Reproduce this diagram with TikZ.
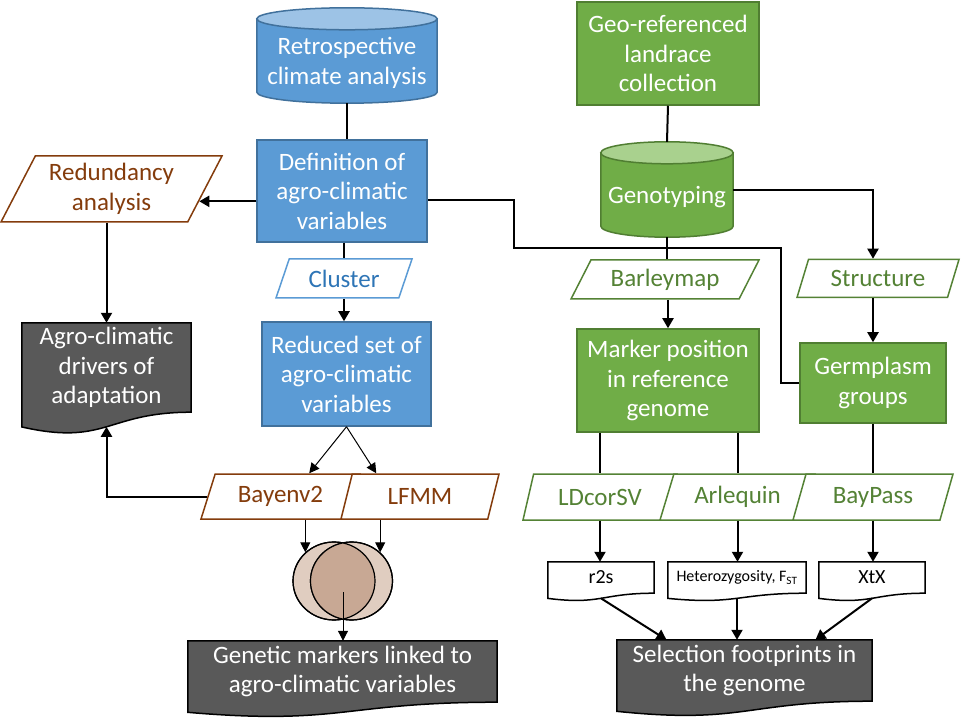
\documentclass[tikz,border=0pt]{standalone}
\usepackage{fontspec}
\setmainfont{Carlito}
\usetikzlibrary{arrows.meta,shapes.geometric,calc,backgrounds}
\definecolor{bluefill}{HTML}{5B9BD5}
\definecolor{blueline}{HTML}{41719C}
\definecolor{bluetop}{HTML}{9DC3E6}
\definecolor{bluetext}{HTML}{2E75B6}
\definecolor{greenfill}{HTML}{70AD47}
\definecolor{greenline}{HTML}{507E32}
\definecolor{greentop}{HTML}{A9D18E}
\definecolor{greentext}{HTML}{548235}
\definecolor{brown}{HTML}{843C0C}
\definecolor{docgray}{HTML}{595959}
\definecolor{vennlight}{HTML}{E0CDC0}
\definecolor{venndark}{HTML}{C8A894}
\tikzset{every node/.append style={font=\fontsize{25}{29.5}\selectfont, align=center, inner sep=0pt}}

\newcommand{\docshape}[2]{%
  \begin{scope}[on background layer]
    \filldraw[fill=#2, draw=black, line width=1.5pt]
      let \p1=(#1.north), \p2=(#1.south), \n1={\y1-\y2} in
      (#1.north west) -- (#1.north east) -- (#1.south east)
      .. controls (#1.south) and ($(#1.south)+(0,-0.38*\n1)$) .. ($(#1.south west)+(0,-0.165*\n1)$) -- cycle;
  \end{scope}
  \path let \p1=(#1.north), \p2=(#1.south), \n1={\y1-\y2} in
    coordinate (#1-b) at ($(#1.south)+(0,-0.163*\n1)$);}

\newcommand{\cylshape}[4]{%
  \begin{scope}[on background layer]
    \filldraw[fill=#2, draw=#4, line width=1.5pt]
      let \p1=(#1.west), \p2=(#1.east), \n1={(\x2-\x1)/2} in
      ([yshift=11pt]#1.north west) -- ([yshift=4pt]#1.south west)
      arc[start angle=180, end angle=360, x radius=\n1, y radius=11pt]
      -- ([yshift=11pt]#1.north east) -- cycle;
    \filldraw[fill=#3, draw=#4, line width=1.5pt]
      let \p1=(#1.west), \p2=(#1.east), \n1={(\x2-\x1)/2} in
      ([yshift=11pt]#1.north) ellipse[x radius=\n1, y radius=11pt];
  \end{scope}
  \coordinate (#1-top) at ([yshift=22pt]#1.north);
  \coordinate (#1-bot) at ([yshift=-7pt]#1.south);}

\begin{document}
\begin{tikzpicture}[x=1pt, y=-1pt,
    bluebox/.style={rectangle, draw=blueline, fill=bluefill, line width=1.5pt, text=white},
    greenbox/.style={rectangle, draw=greenline, fill=greenfill, line width=1.5pt, text=white},
    cyl/.style={rectangle, text=white},
    datain/.style={trapezium, trapezium left angle=55, trapezium right angle=125,
        trapezium stretches body, fill=white, line width=1.5pt},
    brownin/.style={datain, draw=brown, text=brown},
    greenin/.style={datain, draw=greentext, text=greentext},
    docnode/.style={rectangle, text=white},
    smalldoc/.style={rectangle, text=black, font=\fontsize{20}{24}\selectfont},
    venn/.style={ellipse, draw, fill=vennlight, line width=1.2pt, minimum width=82pt, minimum height=78pt},
    line/.style={draw, line width=2pt},
    arr/.style={line, -{Triangle[length=10pt,width=11pt]}},
    thinarr/.style={draw, line width=1pt, -{Triangle[length=10pt,width=10pt]}}
    ]
    \useasboundingbox (0,0) rectangle (962,719);

    \node[cyl, minimum width=180pt, minimum height=66pt] (retro) at (347,63) {Retrospective\\climate analysis};
    \cylshape{retro}{bluefill}{bluetop}{blueline}
    \node[bluebox, minimum width=170pt, minimum height=102pt] (defin) at (342,191) {Definition of\\agro-climatic\\variables};
    \node[datain, draw=bluefill, text=bluetext, trapezium left angle=53, trapezium right angle=127,
        minimum width=136pt, minimum height=39pt] (cluster) at (344,278.5) {Cluster};
    \node[bluebox, minimum width=169pt, minimum height=104pt] (reduced) at (346.5,374) {Reduced set of\\agro-climatic\\variables};
    \node[brownin, trapezium left angle=56, trapezium right angle=124,
        minimum width=221pt, minimum height=66pt] (redund) at (111.5,189) {Redundancy\\analysis};
    \node[docnode, minimum width=169pt, minimum height=89pt] (drivers) at (106.5,367.5) {Agro-climatic\\drivers of\\adaptation};
    \docshape{drivers}{docgray}
    \node[brownin, minimum width=159pt, minimum height=45pt] (bayenv) at (280.5,496.5) {Bayenv2};
    \node[brownin, minimum width=158pt, minimum height=45pt] (lfmm) at (420,496.5) {LFMM};
    \node[venn] (vennL) at (334,581) {};
    \node[venn] (vennR) at (351.5,581) {};
    \begin{scope}
        \clip (vennL.center) ellipse[x radius=41pt, y radius=39pt];
        \fill[venndark] (vennR.center) ellipse[x radius=41pt, y radius=39pt];
    \end{scope}
    \draw[line width=1.2pt] (vennL.center) ellipse[x radius=41pt, y radius=39pt]
        (vennR.center) ellipse[x radius=41pt, y radius=39pt];
    \coordinate (vennmid) at (343,592);
    \node[docnode, minimum width=309pt, minimum height=61pt] (genetic) at (342.5,671.5) {Genetic markers linked to\\agro-climatic variables};
    \docshape{genetic}{docgray}

    \node[greenbox, minimum width=182pt, minimum height=103pt] (geo) at (668,53.5) {Geo-referenced\\landrace\\collection};
    \node[cyl, minimum width=132pt, minimum height=66pt] (geno) at (667,197) {Genotyping};
    \cylshape{geno}{greenfill}{greentop}{greenline}
    \node[greenin, trapezium left angle=47, trapezium right angle=133,
        minimum width=188pt, minimum height=39pt] (barley) at (665,279.5) {Barleymap};
    \node[greenin, minimum width=162pt, minimum height=38pt] (structure) at (878,278.5) {Structure};
    \node[greenbox, minimum width=182pt, minimum height=103pt] (marker) at (668,380.5) {Marker position\\in reference\\genome};
    \node[greenbox, minimum width=146pt, minimum height=80pt] (germ) at (873,383) {Germplasm\\groups};
    \node[greenin, trapezium left angle=57, trapezium right angle=123,
        minimum width=154pt, minimum height=46pt] (ldcor) at (600,497) {LDcorSV};
    \node[greenin, trapezium left angle=57, trapezium right angle=123,
        minimum width=155pt, minimum height=46pt] (arleq) at (737.5,497) {Arlequin};
    \node[greenin, trapezium left angle=57, trapezium right angle=123,
        minimum width=160pt, minimum height=46pt] (baypass) at (873,497) {BayPass};
    \node[smalldoc, minimum width=106pt, minimum height=31pt] (r2s) at (601,577.5) {r2s};
    \docshape{r2s}{white}
    \node[smalldoc, minimum width=138pt, minimum height=31pt, font=\fontsize{16}{19}\selectfont] (hetero) at (737,577.5) {Heterozygosity, F\textsubscript{ST}};
    \docshape{hetero}{white}
    \node[smalldoc, minimum width=106pt, minimum height=31pt] (xtx) at (872,577.5) {XtX};
    \docshape{xtx}{white}
    \node[docnode, minimum width=255pt, minimum height=61pt] (select) at (744.5,670.5) {Selection footprints in\\the genome};
    \docshape{select}{docgray}

    \draw[line] (retro-bot) -- (retro-bot |- defin.north);
    \draw[arr] (defin.west |- redund.-8) -- (redund.-8);
    \draw[arr] (redund.south -| drivers.north) -- (drivers.north);
    \draw[line] (defin.south -| cluster.north) -- (cluster.north);
    \draw[arr] (cluster.south) -- (cluster.south |- reduced.north);
    \draw[thinarr] (reduced.south) -- (bayenv.39);
    \draw[thinarr] (reduced.south) -- (lfmm.152);
    \draw[arr] (bayenv.west) -| (drivers-b);
    \draw[thinarr] (bayenv.south -| vennL.135) -- (vennL.135);
    \draw[thinarr] (lfmm.south -| vennR.45) -- (vennR.45);
    \draw[thinarr] (vennmid) -- (vennmid |- genetic.north);

    \draw[line] (geo.south) -- (geno-top);
    \draw[arr] ([yshift=7pt]geno.east) -| (structure.north -| germ.north);
    \draw[arr] (structure.south -| germ.north) -- (germ.north);
    \draw[line] (geno-bot) -- (geno-bot |- barley.north);
    \draw[arr] (barley.south -| marker.north) -- (marker.north);
    \draw[line] ([yshift=-9pt]defin.east) -- ++(86,0) -- ++(0,48) -| ([xshift=-18pt]germ.west) -- (germ.west);
    \draw[line] (marker.south -| ldcor.north) -- (ldcor.north);
    \draw[line] (marker.south -| arleq.north) -- (arleq.north);
    \draw[line] (germ.south -| baypass.north) -- (baypass.north);
    \draw[arr] (ldcor.south) -- (ldcor.south |- r2s.north);
    \draw[arr] (arleq.south) -- (arleq.south |- hetero.north);
    \draw[arr] (baypass.south) -- (baypass.south |- xtx.north);
    \draw[arr] (r2s-b) -- ([xshift=-78pt]select.north);
    \draw[arr] (hetero-b) -- (hetero-b |- select.north);
    \draw[arr] (xtx-b) -- ([xshift=71pt]select.north);
\end{tikzpicture}
\end{document}
